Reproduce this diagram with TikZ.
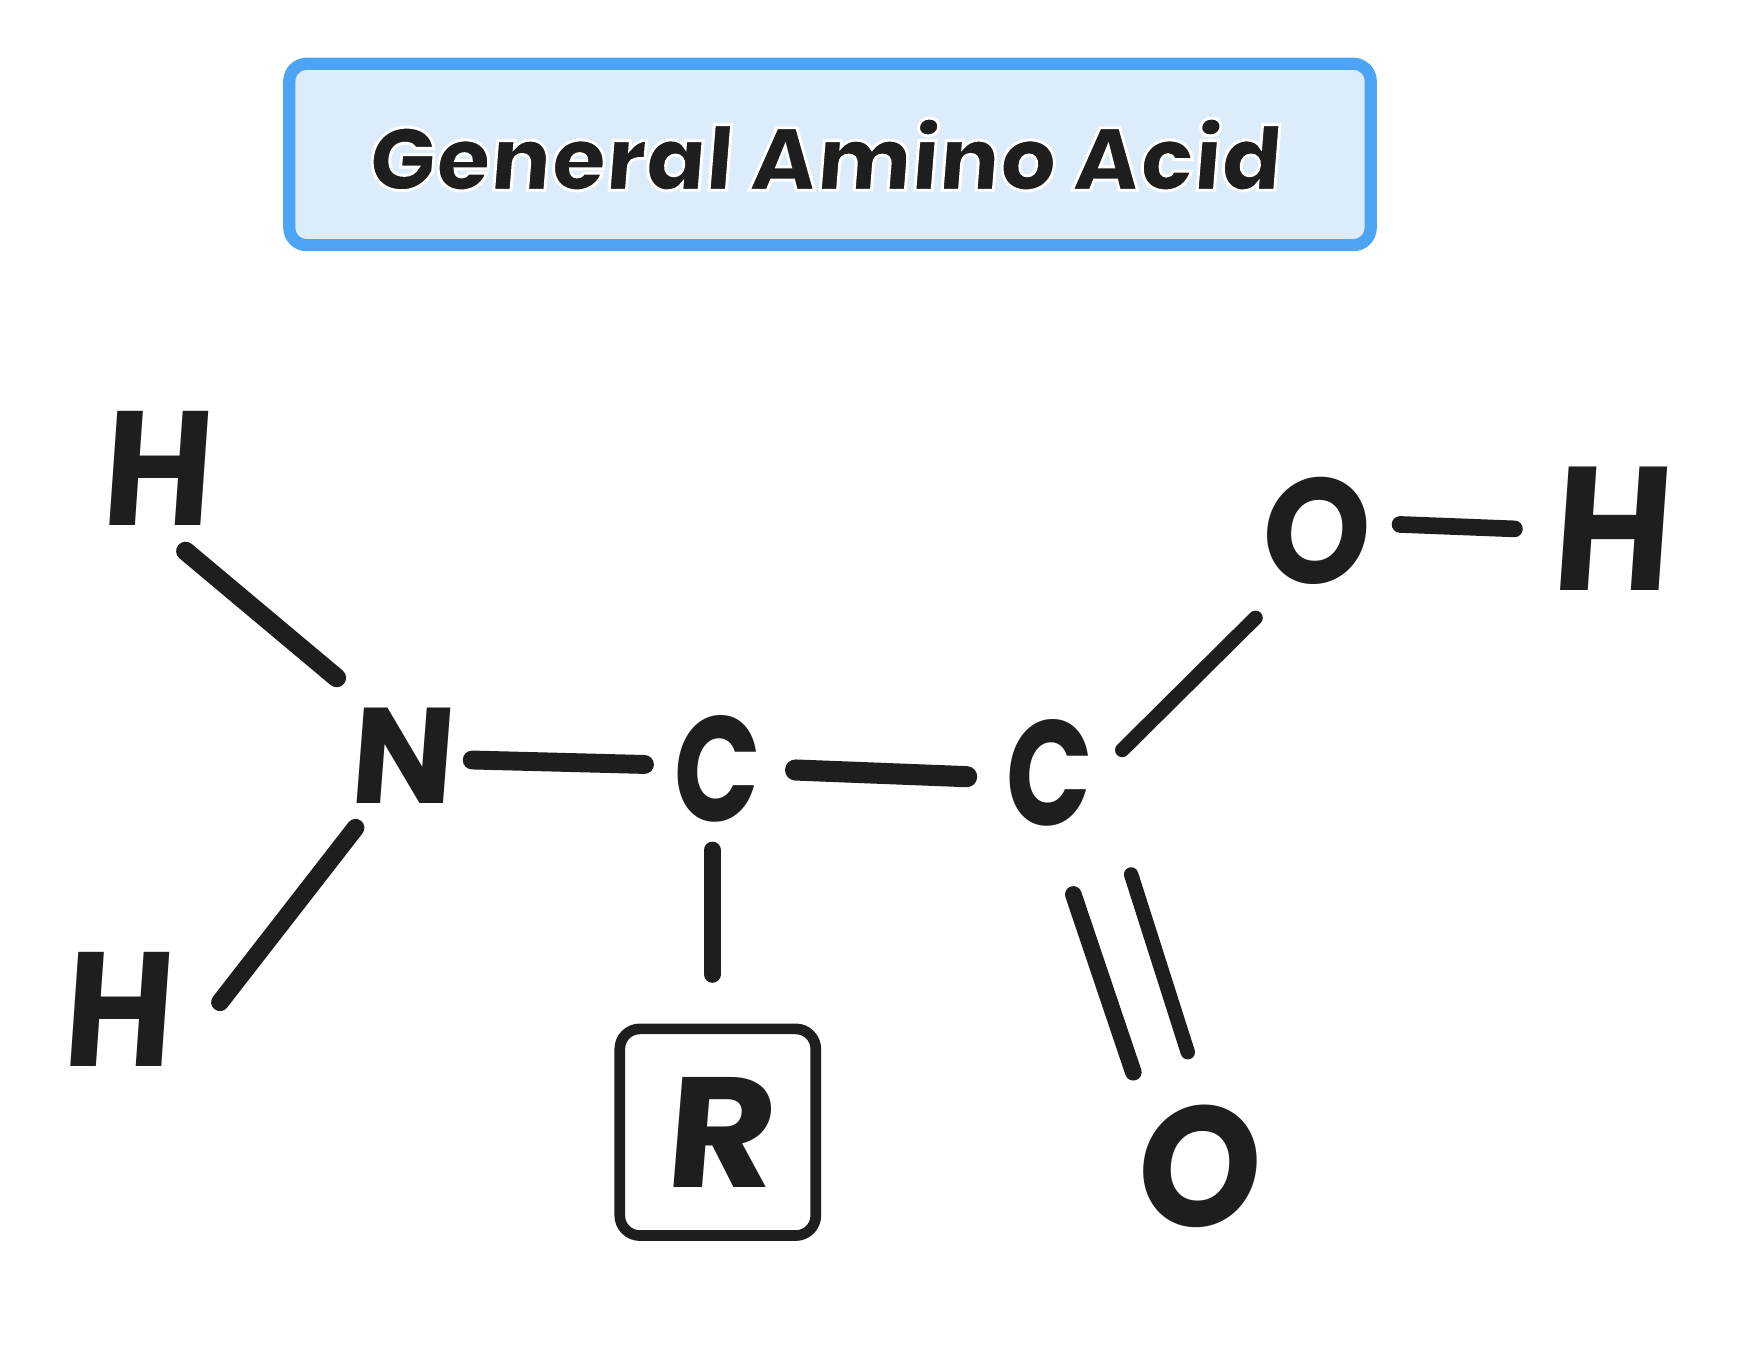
\documentclass[tikz,border=0pt]{standalone}
\usepackage{fontspec}
\newfontfamily\handfont{Poppins Bold}[FakeSlant=0.07,FakeStretch=0.92]
\newfontfamily\titlefont{Poppins ExtraBold}[FakeSlant=0.08]
\newcommand{\halotext}[1]{\special{pdf:code q 1 1 1 RG 2.2 w 2 Tr}#1\special{pdf:code Q}}
\definecolor{ink}{HTML}{1E1E1E}
\definecolor{boxblue}{HTML}{4DA3F4}
\definecolor{boxfill}{HTML}{DDECFA}
\tikzset{
  bond/.style={draw=ink,line cap=round,line width=#1*0.8333pt},
  bond/.default=14,
  atom/.style={text=ink,inner sep=0pt,outer sep=0pt,font=\fontsize{#1}{#1}\selectfont\handfont},
  atom/.default=112,
}
\begin{document}
\begin{tikzpicture}[x=0.8333pt,y=-0.8333pt]
\useasboundingbox (0,0) rectangle (1567.8,1215.9);
\node[draw=boxblue,fill=boxfill,line width=9.15pt,rounded corners=13pt,minimum width=811pt,minimum height=136pt,inner sep=0pt,
  text=ink,font=\fontsize{66.5}{66.5}\selectfont\titlefont] (title) at (747,139) {\kern-10pt\halotext{General Amino Acid}};
\node[atom=122] (H1) at (140,422) {H};
\node[atom=102] (N) at (360,680) {\scalebox{1.1}[1]{N}};
\node[atom=112] (C1) at (643,692) {\scalebox{0.82}[1]{C}};
\node[atom=112] (C2) at (942,696) {\scalebox{0.82}[1]{C}};
\node[atom=112] (O1) at (1182,478) {O};
\node[atom=132] (H3) at (1449,476) {H};
\node[atom=122] (H2) at (105,908) {H};
\node[draw=ink,line width=8pt,rounded corners=15pt,minimum width=147pt,minimum height=155pt,atom=112] (R) at (646,1019) {\scalebox{1.22}[1.05]{R}};
\node[atom=128] (O2) at (1077,1050) {O};
\draw[bond=17] ([shift={(27,74)}]H1.center) -- ([shift={(-57,-70)}]N.center);
\draw[bond=16] ([shift={(-40,65)}]N.center) -- ([shift={(93,-6)}]H2.center);
\draw[bond=17] ([shift={(65,4)}]N.center) -- ([shift={(-63,-4)}]C1.center);
\draw[bond=19] ([shift={(73,1)}]C1.center) -- ([shift={(-72,3)}]C2.center);
\draw[bond=15] ([shift={(-2,73)}]C1.center) -- ([shift={(-5,-142)}]R.center);
\draw[bond=13] ([shift={(68,-21)}]C2.center) -- ([shift={(-52,78)}]O1.center);
\draw[bond=15] ([shift={(24,109)}]C2.center) -- ([shift={(-57,-85)}]O2.center);
\draw[bond=13] ([shift={(76,91)}]C2.center) -- ([shift={(-8,-103)}]O2.center);
\draw[bond=15] ([shift={(78,-6)}]O1.center) -- ([shift={(-86,0)}]H3.center);
\end{tikzpicture}
\end{document}
